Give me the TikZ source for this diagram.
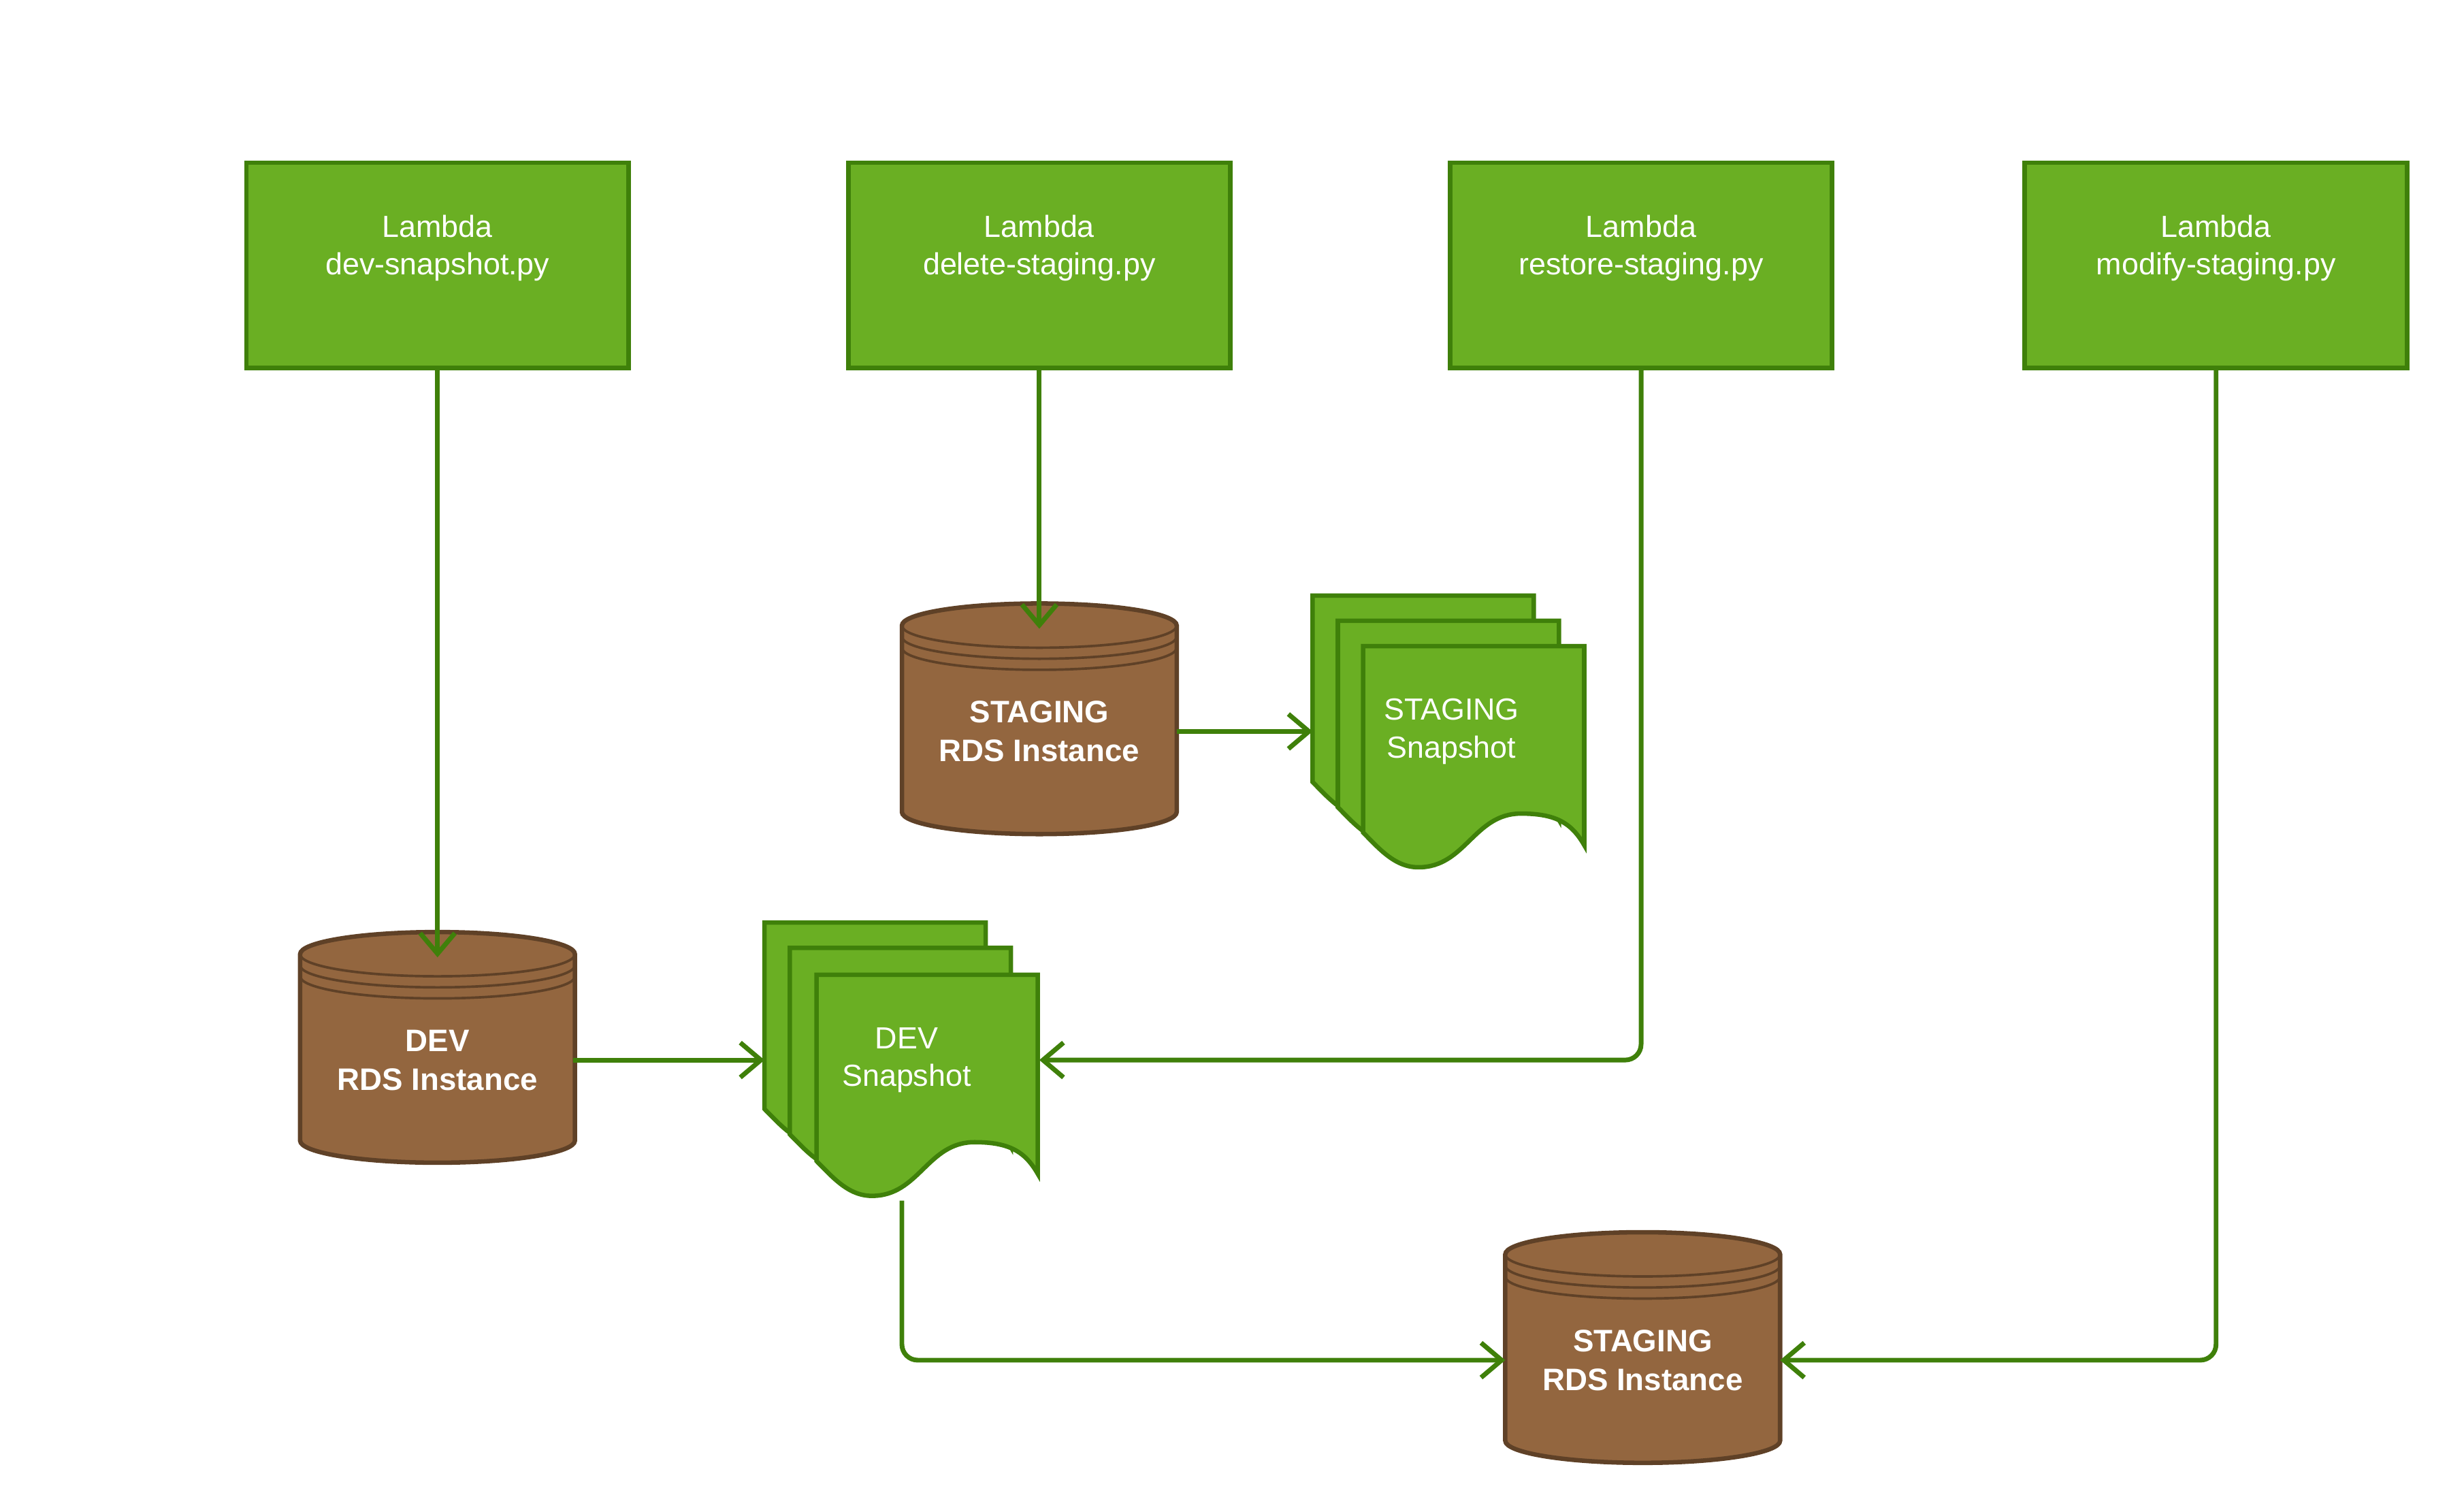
\documentclass[tikz,border=0pt]{standalone}
\usepackage{fontspec}
\setmainfont{Liberation Sans}
\usetikzlibrary{arrows.meta}
\definecolor{gfill}{HTML}{6AAF23}
\definecolor{gline}{HTML}{3F800A}
\definecolor{bfill}{HTML}{93663F}
\definecolor{bline}{HTML}{5F4127}
\tikzset{
 lam/.style={draw=gline,fill=gfill,line width=8.5pt},
 doc/.style={draw=gline,fill=gfill,line width=8pt,line join=miter},
 cylsty/.style={draw=bline,fill=bfill,line width=8pt},
 band/.style={draw=bline,line width=4.5pt},
 lt/.style={text=white,align=center,font=\fontsize{55}{68}\selectfont},
 bt/.style={text=white,align=center,font=\fontsize{56}{70}\selectfont\bfseries},
 arr/.style={draw=gline,line width=8.5pt,-{Straight Barb[length=1.3cm,width=2.2cm,line width=8.5pt]},rounded corners=1cm}
}
\newcommand\mydoc[2]{%
 \path[doc] (#1,#2) -- ++(140,0) -- ++(0,126) .. controls +(-8,-14) and +(22,0) .. ++(-40,-20)
  .. controls +(-30,0) and +(30,0) .. ++(-65,34) .. controls +(-15,0) and +(10,10) .. ++(-35,-22) -- cycle;}
\newcommand\mycyl[2]{%
 \path[cylsty] (#1-87,#2+14) -- (#1-87,#2+132) arc[x radius=87,y radius=14,start angle=180,end angle=0]
  -- (#1+87,#2+14) arc[x radius=87,y radius=14,start angle=0,end angle=-180] -- cycle;
 \draw[band] (#1-87,#2+14) arc[x radius=87,y radius=14,start angle=180,end angle=0];
 \draw[band] (#1-87,#2+21) arc[x radius=87,y radius=14,start angle=180,end angle=0];
 \draw[band] (#1-87,#2+28) arc[x radius=87,y radius=14,start angle=180,end angle=0];}
\begin{document}
\begin{tikzpicture}[x=0.1cm,y=-0.1cm]
\useasboundingbox (0,0) rectangle (1560,957);
% lambdas
\foreach \n/\x/\t in {l1/277/dev-snapshot.py,l2/658/delete-staging.py,l3/1039/restore-staging.py,l4/1403/modify-staging.py}{
 \path[lam] (\x-121,103) rectangle (\x+121,233);
 \node[lt] (\n) at (\x,157) {Lambda\\\t};
 \coordinate (\n b) at (\x,233);
}
% cylinders
\mycyl{658}{382}
\node[bt] (stg1) at (658,463) {STAGING\\RDS Instance};
\coordinate (stg1t) at (658,398); \coordinate (stg1r) at (745,463);
\mycyl{277}{590}
\node[bt] (dev) at (277,671) {DEV\\RDS Instance};
\coordinate (devt) at (277,606); \coordinate (devr) at (363,671);
\mycyl{1040}{780}
\node[bt] (stg2) at (1040,861) {STAGING\\RDS Instance};
\coordinate (stg2l) at (953,861); \coordinate (stg2r) at (1127,861);
% snapshot stacks
\mydoc{831}{377}\mydoc{847}{393}\mydoc{863}{409}
\node[lt] (ss) at (919,463) {STAGING\\Snapshot};
\coordinate (ssl) at (831,463);
\mydoc{484}{584}\mydoc{500}{600}\mydoc{517}{617}
\node[lt] (ds) at (574,671) {DEV\\Snapshot};
\coordinate (dsl) at (484,671); \coordinate (dsr) at (658,671); \coordinate (dsb) at (571,760);
% arrows
\draw[arr] (l1b) -- (devt);
\draw[arr] (l2b) -- (stg1t);
\draw[arr] (stg1r) -- (ssl);
\draw[arr] (devr) -- (dsl);
\draw[arr] (l3b) |- (dsr);
\draw[arr] (dsb) |- (stg2l);
\draw[arr] (l4b) |- (stg2r);
\end{tikzpicture}
\end{document}
